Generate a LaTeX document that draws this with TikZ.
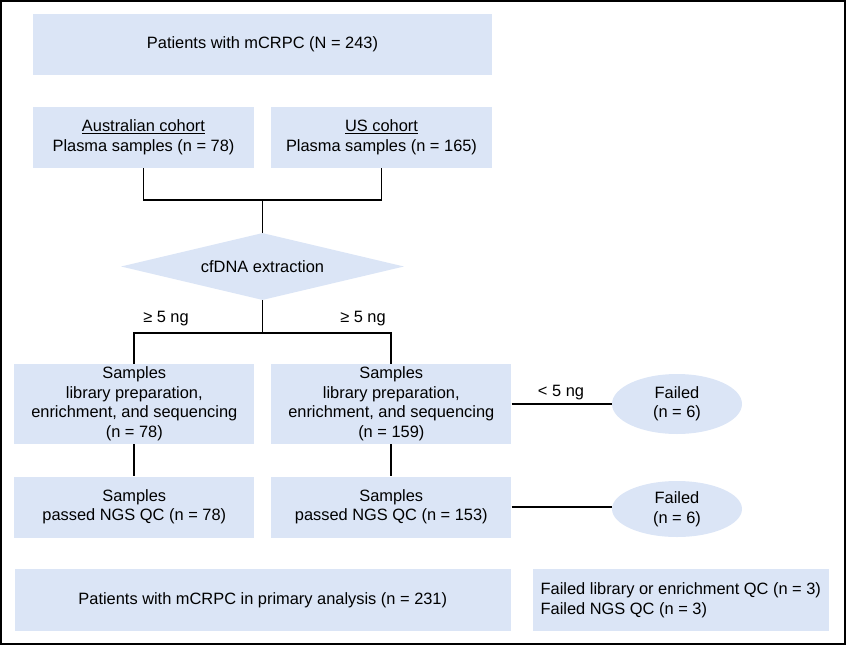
\documentclass[tikz,border=0pt]{standalone}
\usepackage{fontspec}
\setmainfont{Liberation Sans}
\usetikzlibrary{shapes.geometric}
\definecolor{boxblue}{RGB}{219,229,246}

\begin{document}
\begin{tikzpicture}[x=1pt,y=-1pt,
    every node/.style={font=\fontsize{16.4}{19.5}\selectfont},
    box/.style={fill=boxblue, align=center, inner sep=0pt},
    oval/.style={ellipse, fill=boxblue, align=center, inner sep=0pt},
    link/.style={line width=1.9pt}]
      % Draw the frame
      \useasboundingbox (0, 0) rectangle (846, 645);
      \draw[line width=1.5pt] (1, 1) rectangle (845, 644);
      % Draw the boxes
      \node[box, minimum width=459, minimum height=61] (all) at (262.5, 44) {Patients with mCRPC (N = 243)};
      \node[box, minimum width=221, minimum height=61] (aus) at (143.5, 137.5) {\underline{Australian cohort}\\Plasma samples (n = 78)};
      \node[box, minimum width=221, minimum height=61] (us) at (381.5, 137.5) {\underline{US cohort}\\Plasma samples (n = 165)};
      \node[diamond, fill=boxblue, aspect=4.2, inner sep=0pt, minimum width=283, minimum height=67] (cf) at (262.5, 266.5) {cfDNA extraction};
      \node[box, minimum width=240, minimum height=80] (prep1) at (134.3, 404) {Samples\\library preparation,\\enrichment, and sequencing\\(n = 78)};
      \node[box, minimum width=240, minimum height=80] (prep2) at (391.3, 404) {Samples\\library preparation,\\enrichment, and sequencing\\(n = 159)};
      \node[oval, minimum width=130, minimum height=60] (fail1) at (677, 404) {Failed\\(n = 6)};
      \node[box, minimum width=240, minimum height=61] (pass1) at (134.3, 507) {Samples\\passed NGS QC (n = 78)};
      \node[box, minimum width=240, minimum height=61] (pass2) at (391.3, 507) {Samples\\passed NGS QC (n = 153)};
      \node[oval, minimum width=130, minimum height=56] (fail2) at (677, 509) {Failed\\(n = 6)};
      \node[box, minimum width=496, minimum height=62] (final) at (262.8, 600) {Patients with mCRPC in primary analysis (n = 231)};
      \node[box, align=left, minimum width=296, minimum height=62] (excl) at (680.8, 600) {Failed library or enrichment QC (n = 3)\\Failed NGS QC (n = 3)};
      % Draw the connectors
      \coordinate (split1) at (262.5, 200);
      \coordinate (split2) at (262.5, 333);
      \draw[link] (aus.south) |- (split1) -| (us.south);
      \draw[link] (split1) -- (cf.north);
      \draw[link] (cf.south) -- (split2);
      \draw[link] (prep1.north) |- (split2) -| (prep2.north);
      \draw[link] (prep1.south) -- (pass1.north);
      \draw[link] (prep2.south) -- (pass2.north);
      \draw[link] (prep2.east) -- (fail1.west);
      \draw[link] (pass2.east) -- (pass2.east -| fail2.west);
      % Draw the labels
      \node (ge1) at (166, 319) {≥ 5 ng};
      \node (ge2) at (363, 319) {≥ 5 ng};
      \node (lt) at (561, 393) {< 5 ng};
    \end{tikzpicture}
\end{document}
